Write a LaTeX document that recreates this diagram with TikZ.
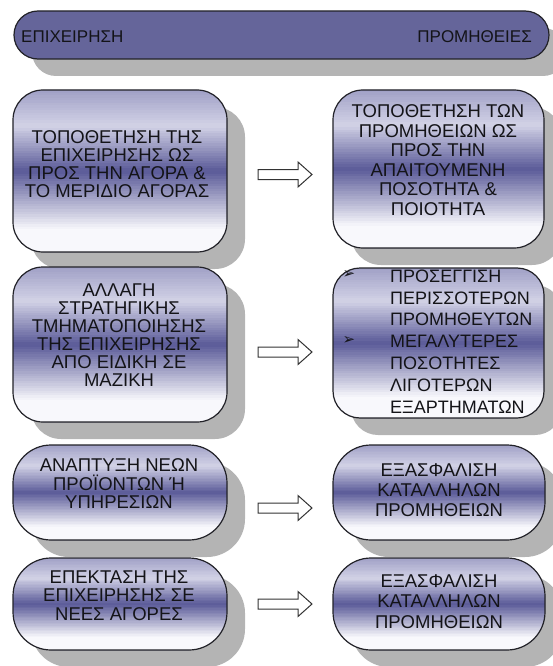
\documentclass[tikz,border=0pt]{standalone}
\usepackage{fontspec}
\setmainfont{Liberation Sans}
\newfontfamily\symfont{DejaVu Sans}
\usetikzlibrary{shadows,calc}

\definecolor{headfill}{RGB}{101,101,154}
\definecolor{edge}{RGB}{34,34,40}
\definecolor{shadowgray}{RGB}{180,180,180}
\definecolor{txt}{RGB}{20,20,24}
\definecolor{ctop}{RGB}{160,160,198}
\definecolor{clight}{RGB}{210,210,230}
\definecolor{cmid}{RGB}{90,90,152}
\definecolor{cbot}{RGB}{248,248,252}

\tikzset{
  boxshadow/.style={general shadow={fill=shadowgray, shadow xshift=18pt, shadow yshift=-17pt}},
  headbar/.style={draw=edge, line width=1.2pt, fill=headfill, rounded corners=24pt,
    boxshadow, minimum width=535pt, minimum height=48pt, inner sep=0pt},
  % vertical gradient built from thin strips: lavender top, light band at
  % about a fifth of the height, dark band across the middle, near white bottom
  panel/.style={draw=edge, line width=1.2pt, boxshadow, inner sep=0pt, fill=cmid,
    path picture={
      \coordinate (pnw) at (path picture bounding box.north west);
      \coordinate (pse) at (path picture bounding box.south east);
      \coordinate (psw) at (pnw |- pse);
      \coordinate (pne) at (pse |- pnw);
      \foreach \i in {0,...,63} {
        \pgfmathsetmacro{\t}{(\i+0.5)/64}
        \pgfmathtruncatemacro{\sa}{min(100,100*\t/0.22)}
        \pgfmathtruncatemacro{\sb}{max(0,min(100,100*(\t-0.22)/0.28))}
        \pgfmathtruncatemacro{\sc}{max(0,min(100,100*(\t-0.5)/0.36))}
        \colorlet{stripa}{clight!\sa!ctop}
        \colorlet{stripb}{cmid!\sb!stripa}
        \colorlet{stripc}{cbot!\sc!stripb}
        \fill[stripc, sharp corners] ($(pnw)!{\i/64}!(psw)$) rectangle ($(pne)!{(\i+1.1)/64}!(pse)$);
      }
    }},
  bigpanel/.style={panel, rounded corners=30pt},
  pillpanel/.style={panel, rounded corners=38pt},
  lbl/.style={text=txt, font=\fontsize{18.5pt}{#1}\selectfont, align=center, inner sep=0pt},
  headlbl/.style={text=txt, font=\fontsize{17pt}{18pt}\selectfont, inner sep=0pt},
  bullet/.style={text=txt, font=\symfont\fontsize{15pt}{15pt}\selectfont, inner sep=0pt},
  hollowarrow/.pic={
    \draw[fill=white, draw=black!80, line width=1pt, line join=miter]
      (0,-5) -- (40,-5) -- (40,-12.5) -- (54,0) -- (40,12.5) -- (40,5) -- (0,5) -- cycle;
  }
}

\begin{document}
% 1pt per unit; the page runs from y=0 at the top down to y=-666
\begin{tikzpicture}[x=1pt, y=1pt]
\useasboundingbox (0,0) rectangle (552,-666);

% header bar
\node[headbar] (head) at (281.5,-35) {};
\node[headlbl, anchor=west] (headl) at (21,-37) {ΕΠΙΧΕΙΡΗΣΗ};
\node[headlbl, anchor=east] (headr) at (532,-37) {ΠΡΟΜΗΘΕΙΕΣ};

% first row
\node[bigpanel, minimum width=214pt, minimum height=162pt] (l1) at (120,-171) {};
\node[lbl=18pt] (l1t) at (117,-164) {ΤΟΠΟΘΕΤΗΣΗ ΤΗΣ\\ΕΠΙΧΕΙΡΗΣΗΣ ΩΣ\\ΠΡΟΣ ΤΗΝ ΑΓΟΡΑ \&\\ΤΟ ΜΕΡΙΔΙΟ ΑΓΟΡΑΣ};
\node[bigpanel, minimum width=211pt, minimum height=158pt] (r1) at (438.5,-169) {};
\node[lbl=19.5pt] (r1t) at (438,-160) {ΤΟΠΟΘΕΤΗΣΗ ΤΩΝ\\ΠΡΟΜΗΘΕΙΩΝ ΩΣ\\ΠΡΟΣ ΤΗΝ\\ΑΠΑΙΤΟΥΜΕΝΗ\\ΠΟΣΟΤΗΤΑ \&\\ΠΟΙΟΤΗΤΑ};
\coordinate (a1) at (258,-174.5);
\pic at (a1) {hollowarrow};

% second row
\node[bigpanel, minimum width=214pt, minimum height=155pt] (l2) at (120,-344.5) {};
\node[lbl=18pt] (l2t) at (119,-335) {ΑΛΛΑΓΗ\\ΣΤΡΑΤΗΓΙΚΗΣ\\ΤΜΗΜΑΤΟΠΟΙΗΣΗΣ\\ΤΗΣ ΕΠΙΧΕΙΡΗΣΗΣ\\ΑΠΟ ΕΙΔΙΚΗ ΣΕ\\ΜΑΖΙΚΗ};
\node[panel, rounded corners=27pt, minimum width=211pt, minimum height=150pt] (r2) at (438.5,-343) {};
\node[text=txt, font=\fontsize{18pt}{21.8pt}\selectfont, align=left, inner sep=0pt, anchor=west] (r2t) at (390,-341.5) {ΠΡΟΣΕΓΓΙΣΗ\\ΠΕΡΙΣΣΟΤΕΡΩΝ\\ΠΡΟΜΗΘΕΥΤΩΝ\\ΜΕΓΑΛΥΤΕΡΕΣ\\ΠΟΣΟΤΗΤΕΣ\\ΛΙΓΟΤΕΡΩΝ\\ΕΞΑΡΤΗΜΑΤΩΝ};
\node[bullet] (b1) at (349,-274) {➢};
\node[bullet] (b2) at (349,-340) {➢};
\coordinate (a2) at (258,-352);
\pic at (a2) {hollowarrow};

% third row
\node[pillpanel, minimum width=214pt, minimum height=95pt] (l3) at (120,-492.5) {};
\node[lbl=18.5pt] (l3t) at (119,-484) {ΑΝΑΠΤΥΞΗ ΝΕΩΝ\\ΠΡΟΪΟΝΤΩΝ Ή\\ΥΠΗΡΕΣΙΩΝ};
\node[pillpanel, minimum width=212pt, minimum height=95pt] (r3) at (439,-492.5) {};
\node[lbl=20pt] (r3t) at (439,-490.5) {ΕΞΑΣΦΑΛΙΣΗ\\ΚΑΤΑΛΛΗΛΩΝ\\ΠΡΟΜΗΘΕΙΩΝ};
\coordinate (a3) at (258,-508);
\pic at (a3) {hollowarrow};

% fourth row
\node[pillpanel, minimum width=214pt, minimum height=92pt] (l4) at (120,-604) {};
\node[lbl=18.5pt] (l4t) at (119,-595.5) {ΕΠΕΚΤΑΣΗ ΤΗΣ\\ΕΠΙΧΕΙΡΗΣΗΣ ΣΕ\\ΝΕΕΣ ΑΓΟΡΕΣ};
\node[pillpanel, minimum width=212pt, minimum height=92pt] (r4) at (439,-604) {};
\node[lbl=20.5pt] (r4t) at (439,-601.5) {ΕΞΑΣΦΑΛΙΣΗ\\ΚΑΤΑΛΛΗΛΩΝ\\ΠΡΟΜΗΘΕΙΩΝ};
\coordinate (a4) at (258,-604);
\pic at (a4) {hollowarrow};
\end{tikzpicture}
\end{document}
